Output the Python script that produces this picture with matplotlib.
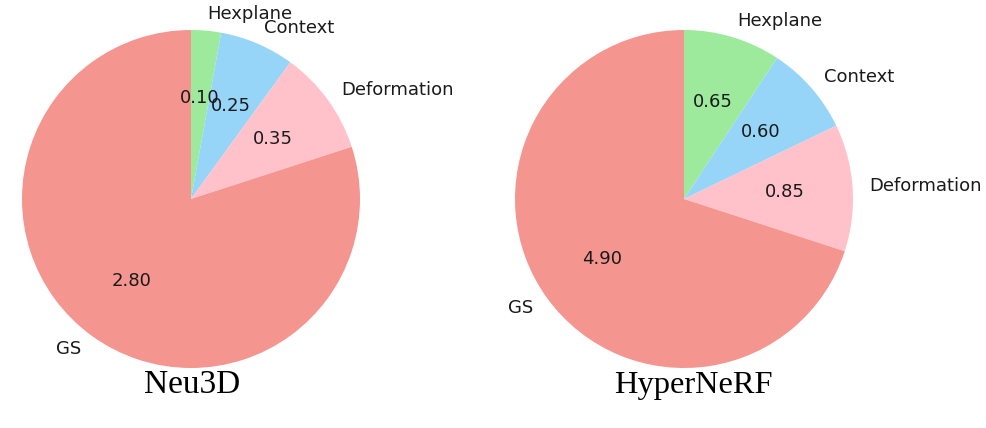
import matplotlib
matplotlib.use("Agg")
import matplotlib.pyplot as plt

categories = ["Hexplane", "Context", "Deformation", "GS"]
neu3d_values = [0.10, 0.25, 0.35, 2.80]
hypernerf_values = [0.65, 0.60, 0.85, 4.90]
titles = ["Neu3D", "HyperNeRF"]
colors = ["#9DEA9D", "#97D5F8", "#FFC2CB", "#F4968F"]

W, H = 987, 428
fig = plt.figure(figsize=(W / 100, H / 100), dpi=100)

def make_pie(cx, cy, r, values, title, tx, tsize):
    ax = fig.add_axes([(cx - r) / W, (H - cy - r) / H, 2 * r / W, 2 * r / H])
    total = sum(values)
    ax.pie(values, labels=categories, colors=colors, startangle=90,
           counterclock=False,
           autopct=lambda p: f"{p * total / 100:.2f}",
           textprops={"fontsize": 13, "color": "#1a1a1a"})
    ax.set_xlim(-1, 1)
    ax.set_ylim(-1, 1)
    ax.set_aspect("equal")
    fig.text(tx / W, (H - 385) / H, title, ha="center", va="center",
             fontsize=tsize, family="Liberation Serif")

make_pie(191, 199, 169, neu3d_values, titles[0], 192, 24)
make_pie(684, 199, 169, hypernerf_values, titles[1], 693, 23.4)

fig.savefig("out.png", dpi=100, facecolor="white")
